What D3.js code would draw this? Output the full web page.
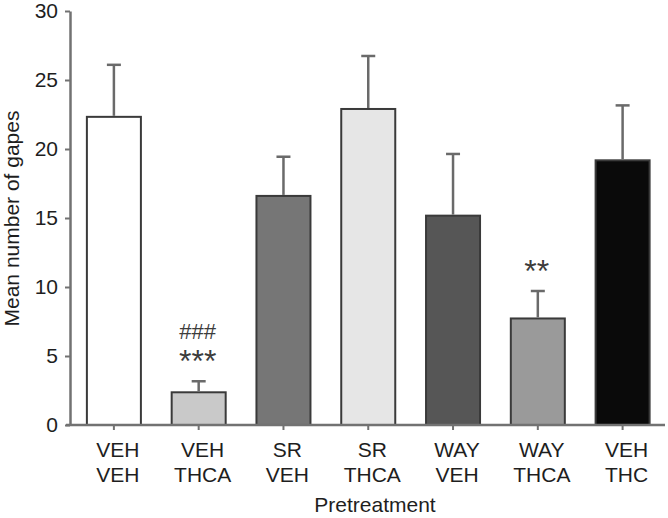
<!DOCTYPE html>
<html>
<head>
<meta charset="utf-8">
<script src="https://cdn.jsdelivr.net/npm/d3@7"></script>
<style>
  html, body { margin: 0; padding: 0; background: #fff; }
  svg { display: block; font-family: "Liberation Sans", Arial, sans-serif; }
</style>
</head>
<body>
<svg id="chart" width="668" height="518"></svg>
<script>
// ---- data ----
const pretreatLine1 = ["VEH", "VEH", "SR", "SR", "WAY", "WAY", "VEH"];
const pretreatLine2 = ["VEH", "THCA", "VEH", "THCA", "VEH", "THCA", "THC"];
const means = [22.33, 2.37, 16.6, 22.9, 15.17, 7.72, 19.18];
const sems  = [3.77, 0.8, 2.84, 3.84, 4.47, 1.99, 3.98];
const starLabels = ["", "***", "", "", "", "**", ""];
const hashLabels = ["", "###", "", "", "", "", ""];
const yTicks = [0, 5, 10, 15, 20, 25, 30];
const barFills = ["#ffffff", "#c9c9c9", "#767676", "#e6e6e6", "#565656", "#9a9a9a", "#0a0a0a"];

const svg = d3.select("#chart");
const idx = d3.range(means.length);

const x = d3.scaleBand().domain(idx).range([71.5, 665]).paddingInner(0.363).paddingOuter(0.1815);
const y = d3.scaleLinear().domain([0, 30]).range([425, 11]);
const axisX = 70;
const axisColor = "#727272";
const textColor = "#1e1e1e";

// y axis
const gy = svg.append("g").attr("transform", `translate(${axisX},0)`)
  .call(d3.axisLeft(y).tickValues(yTicks).tickSize(5).tickSizeOuter(0).tickPadding(7));
gy.select(".domain").attr("stroke", axisColor).attr("stroke-width", 2.5);
gy.selectAll(".tick line").attr("stroke", axisColor).attr("stroke-width", 2);
gy.selectAll(".tick text").attr("fill", textColor).style("font-size", "21px")
  .style("font-family", "'Liberation Sans', Arial, sans-serif");

// bars
svg.append("g").selectAll("rect").data(idx).join("rect")
  .attr("x", i => x(i))
  .attr("y", i => y(means[i]))
  .attr("width", x.bandwidth())
  .attr("height", i => y(0) - y(means[i]))
  .attr("fill", i => barFills[i])
  .attr("stroke", "#3a3a3a")
  .attr("stroke-width", 2);

// error bars
const eb = svg.append("g").attr("stroke", "#6a6a6a").attr("stroke-width", 2.5);
eb.selectAll("line.v").data(idx).join("line").attr("class", "v")
  .attr("x1", i => x(i) + x.bandwidth() / 2).attr("x2", i => x(i) + x.bandwidth() / 2)
  .attr("y1", i => y(means[i]) - 1).attr("y2", i => y(means[i] + sems[i]));
eb.selectAll("line.c").data(idx).join("line").attr("class", "c")
  .attr("x1", i => x(i) + x.bandwidth() / 2 - 7).attr("x2", i => x(i) + x.bandwidth() / 2 + 7)
  .attr("y1", i => y(means[i] + sems[i])).attr("y2", i => y(means[i] + sems[i]));

// x axis
const gx = svg.append("g").attr("transform", `translate(0,${y(0)})`)
  .call(d3.axisBottom(x).tickSize(5).tickSizeOuter(0).tickFormat(""));
gx.select(".domain").remove();
gx.selectAll(".tick line").attr("stroke", axisColor).attr("stroke-width", 2);
gx.append("line").attr("x1", axisX - 4).attr("x2", x.range()[1])
  .attr("stroke", axisColor).attr("stroke-width", 2.5);

// category labels (two lines)
const labG = svg.append("g").attr("fill", textColor).style("font-size", "21px").attr("text-anchor", "middle");
labG.selectAll("text.l1").data(idx).join("text").attr("class", "l1")
  .attr("x", i => x(i) + x.bandwidth() / 2 + 4).attr("y", y(0) + 32).text(i => pretreatLine1[i]);
labG.selectAll("text.l2").data(idx).join("text").attr("class", "l2")
  .attr("x", i => x(i) + x.bandwidth() / 2 + 4).attr("y", y(0) + 57).text(i => pretreatLine2[i]);

// significance annotations
svg.append("g").attr("fill", "#3c3c3c").style("font-size", "32px").attr("text-anchor", "middle")
  .selectAll("text").data(idx.filter(i => starLabels[i])).join("text")
  .attr("x", i => x(i) + x.bandwidth() / 2 - 1)
  .attr("y", i => y(means[i] + sems[i]) - 27 + 18)
  .text(i => starLabels[i]);
svg.append("g").attr("fill", "#3c3c3c").style("font-size", "22px").attr("text-anchor", "middle")
  .selectAll("text").data(idx.filter(i => hashLabels[i])).join("text")
  .attr("x", i => x(i) + x.bandwidth() / 2 - 1)
  .attr("y", i => y(means[i] + sems[i]) - 50 + 8)
  .text(i => hashLabels[i]);

// axis titles
svg.append("text").attr("x", 375).attr("y", 512).attr("text-anchor", "middle")
  .attr("fill", textColor).style("font-size", "21px").text("Pretreatment");
svg.append("text").attr("transform", `translate(19,${218.5}) rotate(-90)`).attr("text-anchor", "middle")
  .attr("fill", textColor).style("font-size", "21px").text("Mean number of gapes");
</script>
</body>
</html>
